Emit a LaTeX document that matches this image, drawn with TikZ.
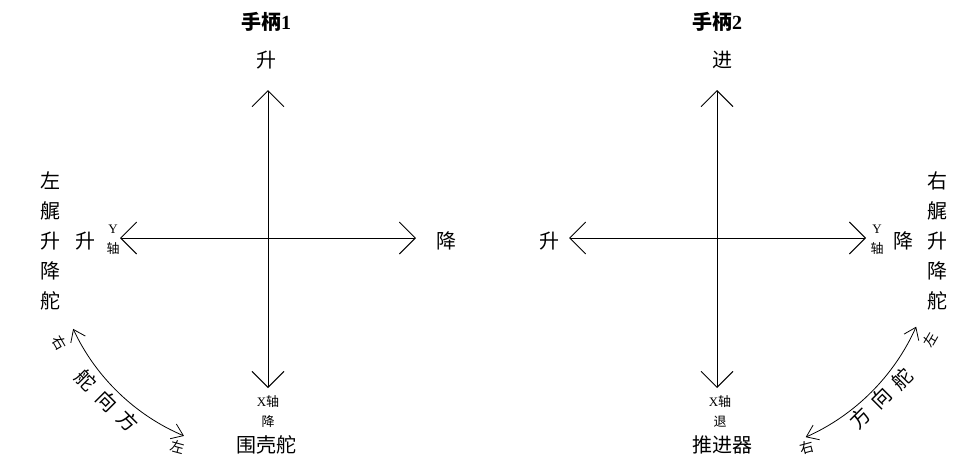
\documentclass[tikz,border=0pt]{standalone}
\usepackage{fontspec}
\setmainfont{Liberation Serif}
\newfontfamily\cjk{Noto Sans CJK SC}
\usetikzlibrary{arrows.meta,calc}

\begin{document}
\begin{tikzpicture}[x=1pt, y=-1pt,
    arr/.style={{Straight Barb[length=16pt,width=32pt]}-{Straight Barb[length=16pt,width=32pt]}, line width=0.9pt},
    curarr/.style={{Straight Barb[length=11pt,width=16pt]}-{Straight Barb[length=11pt,width=16pt]}, line width=0.8pt},
    lbl/.style={inner sep=0pt, font=\cjk\fontsize{20}{24}\selectfont},
    title/.style={inner sep=0pt, font=\cjk\bfseries\fontsize{20}{24}\selectfont},
    small/.style={inner sep=0pt, font=\cjk\fontsize{13}{15}\selectfont, align=center},
    tiny/.style={inner sep=0pt, font=\cjk\fontsize{14}{16}\selectfont},
    column/.style={inner sep=0pt, align=center, font=\cjk\fontsize{20}{30}\selectfont}
  ]
    \useasboundingbox (0,0) rectangle (969,472);

    % handle 1
    \coordinate (c1) at (268,238);
    \coordinate (t1) at (268,90);
    \coordinate (b1) at (268,388);
    \coordinate (l1) at (120,238);
    \coordinate (r1) at (416,238);
    \draw[arr] (b1) -- (t1);
    \draw[arr] (l1) -- (r1);
    \node[title] (h1) at (266,22) {手柄{\rmfamily 1}};
    \node[lbl] (up1) at (266,60) {升};
    \node[lbl] (dn1) at (446,241) {降};
    \node[lbl] (lu1) at (85,241) {升};
    \node[small] (y1) at (113,240) {{\rmfamily Y}\\[5pt]轴};
    \node[column] (elev1) at (50,241) {左\\艉\\升\\降\\舵};
    \node[small] (x1) at (268,402) {{\rmfamily X}轴};
    \node[small] (xd1) at (268,422) {降};
    \node[lbl] (sail) at (266,445) {围壳舵};
    \coordinate (la1) at ($(c1)+(155:215)$);
    \coordinate (la2) at ($(c1)+(113:215)$);
    \draw[curarr] (la1) arc[start angle=155, end angle=113, radius=215];
    \node[tiny, rotate=-60] (lr1) at (60,343) {右};
    \node[tiny, rotate=-15] (ll1) at (178,447) {左};
    % rudder label along the arc
    \node[lbl, rotate=-45] (rud1a) at (86,380) {舵};
    \node[lbl, rotate=-45] (rud1b) at (107,401) {向};
    \node[lbl, rotate=-45] (rud1c) at (128,421) {方};

    % handle 2
    \coordinate (c2) at (717,238);
    \coordinate (t2) at (717,90);
    \coordinate (b2) at (717,388);
    \coordinate (l2) at (569,238);
    \coordinate (r2) at (866,238);
    \draw[arr] (b2) -- (t2);
    \draw[arr] (l2) -- (r2);
    \node[title] (h2) at (717,22) {手柄{\rmfamily 2}};
    \node[lbl] (up2) at (722,60) {进};
    \node[lbl] (lu2) at (549,241) {升};
    \node[lbl] (dn2) at (903,241) {降};
    \node[small] (y2) at (877,240) {{\rmfamily Y}\\[5pt]轴};
    \node[column] (elev2) at (937,241) {右\\艉\\升\\降\\舵};
    \node[small] (x2) at (720,402) {{\rmfamily X}轴};
    \node[small] (xd2) at (720,422) {退};
    \node[lbl] (prop) at (722,445) {推进器};
    \coordinate (ra1) at ($(c2)+(24:218)$);
    \coordinate (ra2) at ($(c2)+(66:218)$);
    \draw[curarr] (ra1) arc[start angle=24, end angle=66, radius=218];
    \node[tiny, rotate=60] (rl2) at (930,340) {左};
    \node[tiny, rotate=15] (rr2) at (807,448) {右};
    % rudder label along the arc
    \node[lbl, rotate=45] (rud2a) at (860,418) {方};
    \node[lbl, rotate=45] (rud2b) at (881,398) {向};
    \node[lbl, rotate=45] (rud2c) at (902,379) {舵};
  \end{tikzpicture}
\end{document}
